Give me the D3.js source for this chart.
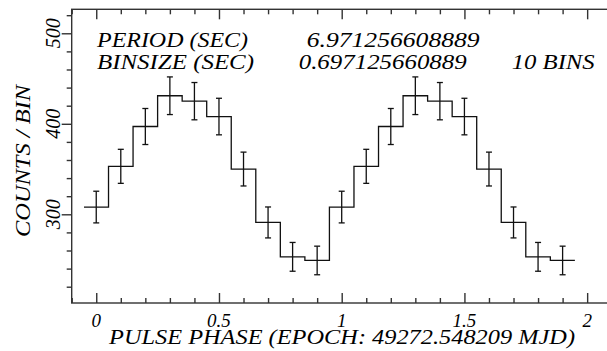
<!DOCTYPE html>
<html>
<head>
<meta charset="utf-8">
<script src="https://cdn.jsdelivr.net/npm/d3@7"></script>
<style>
  body { margin: 0; background: #fff; }
  svg text { font-family: "Liberation Serif", serif; font-style: italic; fill: #000; }
</style>
</head>
<body>
<div id="chart"></div>
<script>
// folded light curve, 10 bins, drawn for two cycles
const binPhase = [0.0, 0.1, 0.2, 0.3, 0.4, 0.5, 0.6, 0.7, 0.8, 0.9];
const binCounts = [308, 353, 397, 431, 425, 408, 350, 291, 253, 249];
const binErrors = [17.5, 18.8, 19.9, 20.8, 20.6, 20.2, 18.7, 17.1, 15.9, 15.8];
const cycles = [0, 1];
const binHalf = 0.05;

const xMajorTicks = [0, 0.5, 1, 1.5, 2];
const xMinorTicks = [-0.1, 0.1, 0.2, 0.3, 0.4, 0.6, 0.7, 0.8, 0.9, 1.1, 1.2, 1.3, 1.4, 1.6, 1.7, 1.8, 1.9, 2.1];
const yMajorTicks = [300, 400, 500];
const yMinorTicks = [220, 240, 260, 280, 320, 340, 360, 380, 420, 440, 460, 480, 520];

const headerLines = [
  { label: "PERIOD (SEC)", value: "6.971256608889", extra: "" },
  { label: "BINSIZE (SEC)", value: "0.697125660889", extra: "10 BINS" }
];
const xTitle = "PULSE PHASE (EPOCH: 49272.548209 MJD)";
const yTitle = "COUNTS / BIN";

const svgWidth = 607, svgHeight = 351;
const frame = { left: 71.7, top: 9.3, right: 611.7, bottom: 303 };

const svg = d3.select("#chart").append("svg")
  .attr("width", svgWidth)
  .attr("height", svgHeight);

const xScale = d3.scaleLinear().domain([-0.1, 2.1]).range([frame.left, frame.right]);
const yScale = d3.scaleLinear().domain([202, 526.5]).range([frame.bottom, frame.top]);

// points for both cycles
const points = [];
cycles.forEach(c => binPhase.forEach((p, i) => {
  points.push({ phase: p + c, count: binCounts[i], err: binErrors[i] });
}));

// frame
svg.append("rect")
  .attr("x", frame.left).attr("y", frame.top)
  .attr("width", frame.right - frame.left).attr("height", frame.bottom - frame.top)
  .attr("fill", "none").attr("stroke", "#333").attr("stroke-width", 1.4);

// ticks: x inward on bottom + top, y outward on left
const tickGroup = (axis, tx, ty) => {
  const g = svg.append("g").attr("transform", `translate(${tx},${ty})`).call(axis);
  g.select(".domain").remove();
  g.selectAll("text").remove();
  g.selectAll("line").attr("stroke", "#333").attr("stroke-width", 1.4);
  return g;
};
tickGroup(d3.axisBottom(xScale).tickValues(xMajorTicks).tickSize(-10), 0, frame.bottom);
tickGroup(d3.axisBottom(xScale).tickValues(xMinorTicks).tickSize(-5), 0, frame.bottom);
tickGroup(d3.axisTop(xScale).tickValues(xMajorTicks).tickSize(-10), 0, frame.top);
tickGroup(d3.axisTop(xScale).tickValues(xMinorTicks).tickSize(-5), 0, frame.top);
tickGroup(d3.axisLeft(yScale).tickValues(yMajorTicks).tickSize(10), frame.left, 0);
tickGroup(d3.axisLeft(yScale).tickValues(yMinorTicks).tickSize(5), frame.left, 0);

// tick labels
svg.selectAll(".xlab").data(xMajorTicks).enter().append("text")
  .attr("x", d => xScale(d)).attr("y", 327)
  .attr("text-anchor", "middle").style("font-size", "19px")
  .text(d => d3.format("")(d));

svg.selectAll(".ylab").data(yMajorTicks).enter().append("text")
  .attr("transform", d => `translate(60, ${yScale(d)}) rotate(-90)`)
  .attr("text-anchor", "middle").style("font-size", "20px")
  .text(d => d);

// axis titles
svg.append("text")
  .attr("x", 109).attr("y", 344)
  .attr("textLength", 466).attr("lengthAdjust", "spacingAndGlyphs")
  .style("font-size", "21px")
  .text(xTitle);

svg.append("text")
  .attr("transform", `translate(30, 161) rotate(-90)`)
  .attr("text-anchor", "middle")
  .attr("textLength", 152).attr("lengthAdjust", "spacingAndGlyphs")
  .style("font-size", "21px")
  .text(yTitle);

// header text
const headerY = [47, 69];
const labelWidths = [151, 157];
const valueX = [306.7, 298.7];
const valueWidths = [173, 168];
headerLines.forEach((h, i) => {
  svg.append("text").attr("x", 97).attr("y", headerY[i])
    .attr("textLength", labelWidths[i]).attr("lengthAdjust", "spacingAndGlyphs")
    .style("font-size", "21px").text(h.label);
  svg.append("text").attr("x", valueX[i]).attr("y", headerY[i])
    .attr("textLength", valueWidths[i]).attr("lengthAdjust", "spacingAndGlyphs")
    .style("font-size", "21px").text(h.value);
  if (h.extra) {
    svg.append("text").attr("x", 511.7).attr("y", headerY[i])
      .attr("textLength", 83).attr("lengthAdjust", "spacingAndGlyphs")
      .style("font-size", "21px").text(h.extra);
  }
});

// step histogram
const stepPts = points.map(d => [d.phase - binHalf, d.count]);
const last = points[points.length - 1];
stepPts.push([last.phase + binHalf, last.count]);

const stepLine = d3.line()
  .x(d => xScale(d[0]))
  .y(d => yScale(d[1]))
  .curve(d3.curveStepAfter);

svg.append("path")
  .attr("d", stepLine(stepPts))
  .attr("fill", "none").attr("stroke", "#111").attr("stroke-width", 1.3);

// error bars with caps
const errG = svg.append("g").attr("stroke", "#111").attr("stroke-width", 1.3);
errG.selectAll(".ebar").data(points).enter().append("line")
  .attr("x1", d => xScale(d.phase)).attr("x2", d => xScale(d.phase))
  .attr("y1", d => yScale(d.count - d.err)).attr("y2", d => yScale(d.count + d.err));
errG.selectAll(".ecapTop").data(points).enter().append("line")
  .attr("x1", d => xScale(d.phase) - 3).attr("x2", d => xScale(d.phase) + 3)
  .attr("y1", d => yScale(d.count + d.err)).attr("y2", d => yScale(d.count + d.err));
errG.selectAll(".ecapBot").data(points).enter().append("line")
  .attr("x1", d => xScale(d.phase) - 3).attr("x2", d => xScale(d.phase) + 3)
  .attr("y1", d => yScale(d.count - d.err)).attr("y2", d => yScale(d.count - d.err));
</script>
</body>
</html>
